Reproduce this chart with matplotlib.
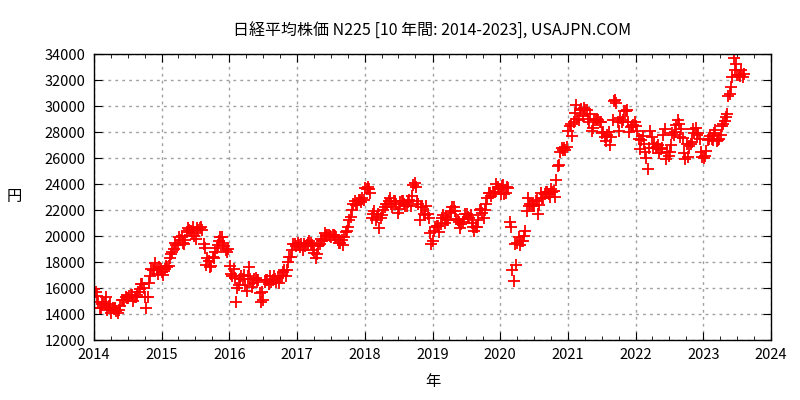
import numpy as np
import pandas as pd
import matplotlib
matplotlib.use("Agg")
import matplotlib.pyplot as plt
import matplotlib.dates as mdates

plt.rcParams['font.family'] = ['Noto Sans CJK JP', 'DejaVu Sans']

# Nikkei 225, weekly values (one list per year)
n225 = {}
n225[2014] = [15900, 15700, 15400, 14900, 14500, 14500, 14800, 14900, 14800, 15300, 14300, 14600,
              14800, 14100, 14500, 14400, 14500, 14200, 14100, 14300, 14600, 15100, 15100, 15100,
              15300, 15200, 15200, 15400, 15500, 15500, 15000, 15300, 15300, 15500, 15700, 15900,
              16300, 16300, 16000, 15300, 14500, 15300, 16400, 16900, 17500, 17400, 17400, 17900,
              17400, 17100, 17600, 17450]
n225[2015] = [17200, 17000, 17500, 17700, 17600, 17700, 18300, 18600, 18800, 19000, 19500, 19300,
              19300, 19900, 19700, 20000, 19500, 19400, 19700, 20300, 20600, 20500, 20400, 20200,
              20700, 20000, 19800, 20600, 20500, 20600, 20700, 20500, 19400, 19100, 17800, 18300,
              18100, 17600, 17700, 18400, 18300, 18800, 19100, 19300, 19600, 19900, 19900, 19500,
              19200, 18900, 18800, 19000]
n225[2016] = [17700, 17100, 16900, 17500, 16800, 14950, 16000, 16200, 16700, 16900, 16700, 17000,
              16200, 15800, 16900, 17600, 16700, 16100, 16400, 16700, 16800, 16600, 16600, 15600,
              14950, 15700, 15100, 16500, 16600, 16600, 16300, 16900, 16500, 16600, 16900, 16700,
              16500, 16800, 16400, 16900, 16900, 17200, 17400, 16900, 17400, 18000, 18400, 18400,
              18900, 19400, 19400, 19200]
n225[2017] = [19450, 19300, 19150, 19400, 18900, 19400, 19200, 19300, 19500, 19600, 19500, 19300,
              18900, 18700, 18300, 18600, 19200, 19400, 19800, 19600, 19700, 20200, 20000, 20100,
              20100, 20000, 19900, 20100, 20100, 20000, 19950, 19700, 19500, 19450, 19700, 19300,
              19900, 20300, 20400, 20700, 21200, 21500, 22000, 22500, 22700, 22400, 22500, 22800,
              22800, 22600, 22900, 22800]
n225[2018] = [23700, 23650, 23800, 23600, 23300, 21400, 21700, 21900, 21200, 21500, 21700, 20600,
              21400, 21600, 22000, 22200, 22500, 22500, 22700, 22900, 22500, 22200, 22700, 22700,
              22500, 21800, 22100, 22600, 22700, 22700, 22500, 22300, 22300, 22600, 22800, 22300,
              23100, 23900, 24100, 23800, 22700, 22500, 21200, 22200, 22200, 21700, 21600, 22300,
              21700, 21400, 20200, 19400]
n225[2019] = [19600, 20400, 20700, 20800, 20800, 20300, 20900, 21400, 21600, 21000, 21450, 21200,
              21200, 21800, 21900, 22200, 22250, 21900, 21300, 21250, 21100, 20600, 20900, 21100,
              21300, 21700, 21700, 21500, 21400, 21650, 21000, 20700, 20400, 20700, 20700, 21200,
              22000, 22100, 21800, 21400, 22000, 22500, 22900, 23300, 23300, 23100, 23300, 23350,
              23400, 24000, 23800, 23650]
n225[2020] = [23200, 23850, 23900, 23200, 23300, 23800, 23700, 21100, 20700, 17400, 16550, 19400,
              17800, 19500, 19900, 19300, 19600, 19600, 20000, 20400, 21900, 22900, 22300, 22500,
              22500, 22300, 22300, 22700, 22750, 21700, 22400, 23300, 22900, 22900, 23200, 23400,
              23350, 23200, 23030, 23600, 23400, 23500, 22970, 24300, 25400, 25500, 26500, 26750,
              26650, 26750, 26650, 26850]
n225[2021] = [28100, 28500, 28600, 27700, 28800, 29500, 30100, 28970, 28900, 29700, 29800, 29200,
              29850, 29700, 29700, 29000, 28800, 29350, 28100, 28300, 28900, 28950, 29000, 28950,
              28800, 28800, 27950, 28000, 27600, 27300, 27800, 28000, 27000, 27600, 28900, 30400,
              30500, 30250, 28800, 28050, 29050, 28800, 28900, 29600, 29600, 29700, 28750, 28000,
              28400, 28500, 28550, 28800]
n225[2022] = [28500, 28100, 27500, 26700, 27400, 27700, 27100, 26500, 25985, 25160, 26800, 28100,
              27600, 26800, 27100, 26800, 26850, 27000, 26400, 26700, 26800, 27800, 28200, 25960,
              26500, 26150, 26500, 27000, 27900, 27800, 28000, 28550, 28900, 28650, 27650, 28200,
              27570, 26400, 25900, 27100, 26100, 26900, 27100, 27200, 28250, 27900, 28300, 27800,
              27900, 27500, 26500, 26100]
n225[2023] = [25970, 26120, 26550, 27380, 27500, 27670, 27500, 27420, 27930, 28140, 27330, 27380,
              27500, 27780, 28500, 28600, 28860, 29150, 29400, 30800, 30900, 31500, 32250, 33700,
              32800, 33200, 32400, 32400, 32300, 32760, 32200, 32500]

title = '日経平均株価 N225 [10 年間: 2014-2023], USAJPN.COM'

fig = plt.figure(figsize=(8, 4), dpi=100)
ax = fig.add_axes([0.1175, 0.15, 0.8463, 0.715])

for year, vals in n225.items():
    dates = pd.date_range(f'{year}-01-03', periods=len(vals), freq='7D')
    ax.plot(dates, vals, '+', color='red', markersize=8, markeredgewidth=1.3)

ax.set_xlim(pd.Timestamp('2014-01-01'), pd.Timestamp('2024-01-01'))
ax.set_ylim(12000, 34000)
ax.set_yticks(np.arange(12000, 34001, 2000))
ax.xaxis.set_major_locator(mdates.YearLocator())
ax.xaxis.set_minor_locator(mdates.MonthLocator(bymonth=[4, 7, 10]))
ax.xaxis.set_major_formatter(mdates.DateFormatter('%Y'))

ax.tick_params(which='both', direction='in', top=True, right=True, labelsize=10.5, pad=6)
ax.tick_params(which='major', length=6)
ax.tick_params(which='minor', length=3)
ax.grid(True, which='major', color='#a0a0a0', linestyle=(0, (2, 3)), linewidth=1)
for s in ax.spines.values():
    s.set_linewidth(1)

ax.set_title(title, fontsize=11.5, pad=13)
ax.set_xlabel('年', fontsize=11, labelpad=8)
ax.set_ylabel('円', fontsize=11, rotation=0, labelpad=22, va='center')

fig.savefig('out.png', dpi=100)
